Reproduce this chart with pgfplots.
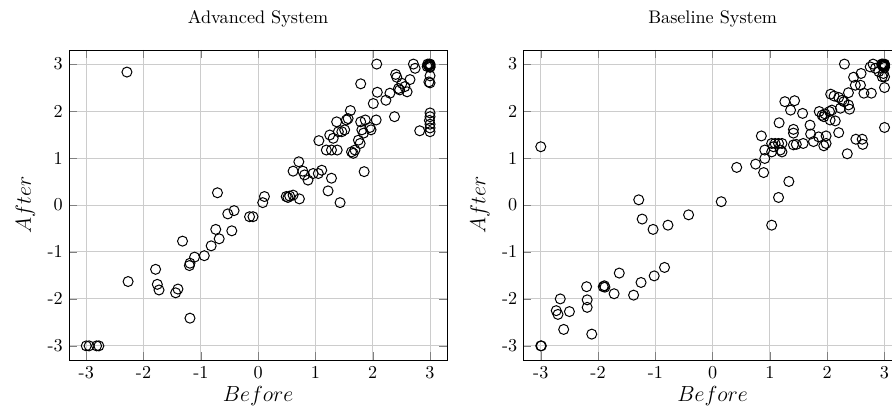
\documentclass[border=0pt]{standalone}
\usepackage{pgfplots}
\pgfplotsset{compat=1.18}
\pgfplotstableread{
x y
-2.29 2.83
-0.71 0.26
2.07 3.00
2.71 3.00
2.74 2.91
3.00 2.98
2.97 2.97
2.99 3.00
3.00 2.95
2.96 3.00
3.00 3.00
2.98 2.98
3.00 2.93
2.95 2.95
1.79 2.58
2.40 2.78
2.42 2.72
2.65 2.67
3.00 2.75
3.00 2.60
2.98 2.62
2.51 2.59
2.45 2.48
2.47 2.45
2.56 2.52
2.60 2.41
2.30 2.38
2.23 2.23
2.08 2.40
2.01 2.16
2.38 1.88
2.82 1.58
3.00 1.96
3.00 1.88
2.99 1.80
3.00 1.72
3.00 1.64
3.00 1.56
1.61 2.01
1.54 1.81
1.57 1.84
1.37 1.77
1.79 1.77
1.87 1.81
2.06 1.81
1.95 1.65
1.97 1.60
1.81 1.60
1.84 1.53
1.51 1.60
1.46 1.56
1.40 1.56
1.25 1.49
1.31 1.42
1.75 1.38
1.78 1.31
1.06 1.37
1.19 1.17
1.28 1.17
1.38 1.17
1.63 1.13
1.66 1.10
1.69 1.17
1.85 0.71
0.71 0.92
0.61 0.72
0.78 0.72
0.81 0.64
0.87 0.53
0.96 0.67
1.05 0.67
1.11 0.74
1.28 0.57
1.22 0.30
1.43 0.05
0.11 0.18
0.08 0.05
-0.09 -0.25
0.49 0.18
0.55 0.19
0.61 0.21
0.72 0.13
0.52 0.16
-0.53 -0.19
-0.42 -0.12
-0.15 -0.25
-0.74 -0.52
-0.46 -0.55
-0.68 -0.72
-0.82 -0.87
-0.94 -1.08
-1.11 -1.11
-1.19 -1.24
-1.20 -1.29
-1.32 -0.77
-1.79 -1.37
-1.76 -1.69
-1.73 -1.81
-2.27 -1.63
-1.44 -1.87
-1.40 -1.79
-1.19 -2.41
-3.00 -3.00
-2.95 -3.00
-2.82 -3.00
-2.78 -3.00
}\advanced
\pgfplotstableread{
x y
-3.00 1.24
-1.29 0.11
-1.23 -0.30
-1.04 -0.52
-0.78 -0.43
-0.42 -0.21
-1.63 -1.45
-0.84 -1.33
-1.02 -1.51
-1.25 -1.65
-1.38 -1.92
-1.72 -1.89
-1.89 -1.72
-1.88 -1.75
-1.91 -1.74
-2.20 -1.74
-2.19 -2.02
-2.19 -2.18
-2.66 -2.00
-2.73 -2.25
-2.70 -2.33
-2.50 -2.27
-2.60 -2.65
-2.11 -2.75
-3.00 -3.00
-2.99 -3.00
0.15 0.07
1.03 -0.43
1.15 0.16
1.33 0.50
2.30 3.00
2.80 3.00
2.75 2.94
2.84 2.91
2.90 2.84
2.98 2.80
3.00 2.73
2.96 2.73
3.00 3.00
2.98 2.98
2.97 3.00
3.00 2.96
2.99 2.99
2.96 2.97
3.00 2.93
2.98 2.95
2.95 3.00
3.00 2.98
3.00 2.50
3.00 1.65
2.59 2.80
2.46 2.72
2.49 2.55
2.58 2.55
2.64 2.38
2.77 2.38
2.37 2.39
2.06 2.36
2.12 2.32
2.20 2.29
2.26 2.23
2.29 2.20
2.37 2.13
2.39 2.04
2.23 2.06
1.86 1.99
1.91 1.91
1.96 1.94
2.04 1.99
2.08 2.02
2.05 1.81
2.14 1.79
1.94 1.88
2.20 1.54
2.50 1.40
2.61 1.40
2.62 1.29
2.35 1.09
1.26 2.20
1.43 2.22
1.36 2.02
1.57 1.95
1.16 1.75
1.41 1.61
1.41 1.53
1.70 1.70
1.71 1.51
1.85 1.45
1.98 1.47
1.76 1.35
1.58 1.31
1.46 1.29
1.41 1.28
1.94 1.26
1.98 1.31
0.85 1.47
1.03 1.31
1.09 1.31
1.15 1.31
1.21 1.31
1.06 1.24
1.18 1.17
1.21 1.13
1.03 1.13
0.91 1.17
0.91 0.99
0.75 0.87
0.89 0.69
0.42 0.80
}\baseline
\pgfplotsset{
  myax/.style={
    scale only axis,
    width=208pt, height=170.5pt,
    xmin=-3.3, xmax=3.3, ymin=-3.3, ymax=3.3,
    xtick={-3,-2,-1,0,1,2,3}, ytick={-3,-2,-1,0,1,2,3},
    xticklabels={-3,-2,-1,0,1,2,3}, yticklabels={-3,-2,-1,0,1,2,3},
    grid=major,
    major grid style={gray!40, line width=0.5pt},
    xlabel={$Before$}, ylabel={$After$},
    label style={font=\large},
    xlabel shift=-3pt,
    ylabel shift=0pt,
    title style={yshift=3pt},
  },
  pts/.style={only marks, mark=o, mark size=2.75pt, draw=black, mark options={draw=black, fill=none, line width=0.55pt}},
}
\begin{document}
\begin{tikzpicture}
\begin{axis}[myax, at={(0,0)}, anchor=south west, title={Advanced System}]
\addplot[pts] table[x=x, y=y] {\advanced};
\end{axis}
\begin{axis}[myax, at={(250pt,0)}, anchor=south west, title={Baseline System}]
\addplot[pts] table[x=x, y=y] {\baseline};
\end{axis}
\pgfresetboundingbox
\path[use as bounding box] (-38pt,-27pt) rectangle (452.65pt,198pt);
\end{tikzpicture}
\end{document}
